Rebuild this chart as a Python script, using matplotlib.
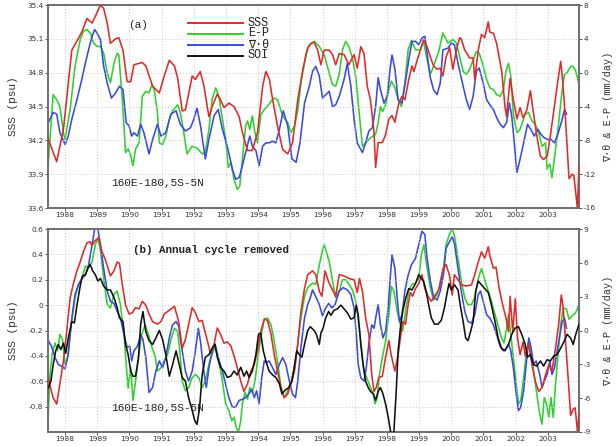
import numpy as np
import matplotlib
matplotlib.use("Agg")
import matplotlib.pyplot as plt

# ---------------- (a) raw monthly series ----------------
ta_sss = [1987.48, 1987.74, 1987.95, 1988.21, 1988.37, 1988.52, 1988.68, 1988.84, 1988.94, 1989.10,
          1989.20, 1989.31, 1989.41, 1989.57, 1989.67, 1989.80, 1989.93, 1990.04, 1990.14, 1990.40,
          1990.51, 1990.72, 1990.93, 1991.08, 1991.24, 1991.40, 1991.50, 1991.64, 1991.74, 1991.95,
          1992.05, 1992.20, 1992.31, 1992.47, 1992.57, 1992.73, 1992.83, 1992.94, 1993.09, 1993.25,
          1993.41, 1993.51, 1993.67, 1993.82, 1993.98, 1994.14, 1994.24, 1994.35, 1994.45, 1994.60,
          1994.76, 1994.92, 1995.07, 1995.23, 1995.39, 1995.54, 1995.65, 1995.74, 1995.85, 1995.95,
          1996.05, 1996.21, 1996.31, 1996.41, 1996.52, 1996.67, 1996.82, 1996.98, 1997.08, 1997.19,
          1997.29, 1997.39, 1997.49, 1997.60, 1997.65, 1997.73, 1997.86, 1997.96, 1998.06, 1998.16,
          1998.25, 1998.37, 1998.47, 1998.56, 1998.68, 1998.78, 1998.84, 1998.94, 1999.04, 1999.14,
          1999.25, 1999.35, 1999.45, 1999.56, 1999.66, 1999.74, 1999.84, 1999.95, 2000.05, 2000.16,
          2000.26, 2000.31, 2000.42, 2000.57, 2000.68, 2000.73, 2000.84, 2000.94, 2001.04, 2001.15,
          2001.20, 2001.31, 2001.41, 2001.52, 2001.57, 2001.67, 2001.72, 2001.83, 2001.93, 2002.04,
          2002.14, 2002.23, 2002.35, 2002.46, 2002.56, 2002.66, 2002.77, 2002.87, 2002.98, 2003.08,
          2003.19, 2003.29, 2003.40, 2003.45, 2003.55, 2003.66, 2003.76, 2003.81, 2003.92, 2003.97]
a_sss = [34.21, 34.01, 34.30, 35.00, 35.08, 35.16, 35.28, 35.24, 35.30, 35.40,
         35.37, 35.24, 35.06, 35.10, 35.11, 35.00, 34.72, 34.72, 34.87, 34.89,
         34.86, 34.68, 34.62, 34.77, 34.91, 34.86, 34.75, 34.46, 34.47, 34.77,
         34.74, 34.81, 34.69, 34.41, 34.50, 34.61, 34.56, 34.49, 34.53, 34.50,
         34.41, 34.27, 34.11, 34.11, 34.27, 34.68, 34.81, 34.74, 34.56, 34.33,
         34.12, 34.08, 34.18, 34.56, 34.83, 35.02, 35.06, 35.07, 35.00, 34.87,
         35.00, 35.00, 34.96, 34.87, 34.97, 34.96, 34.87, 34.96, 34.84, 35.03,
         34.97, 34.68, 34.56, 34.27, 33.96, 34.18, 34.18, 34.25, 34.39, 34.42,
         34.36, 34.53, 34.59, 34.56, 34.74, 34.86, 34.81, 34.91, 35.00, 35.09,
         35.03, 34.94, 34.86, 34.83, 34.84, 34.77, 34.94, 35.02, 34.83, 35.00,
         35.11, 35.10, 35.00, 34.93, 34.93, 34.74, 35.00, 35.14, 35.11, 35.25,
         35.16, 35.15, 35.06, 34.89, 34.81, 34.50, 34.41, 34.75, 34.56, 34.39,
         34.49, 34.40, 34.47, 34.64, 34.43, 34.24, 34.06, 34.03, 34.06, 34.24,
         34.47, 34.68, 34.90, 34.77, 34.39, 33.86, 33.90, 33.89, 33.60, 33.98]

ta_ep = [1987.48, 1987.63, 1987.74, 1987.84, 1987.95, 1988.00, 1988.16, 1988.31, 1988.47, 1988.57,
         1988.68, 1988.78, 1988.89, 1988.99, 1989.10, 1989.20, 1989.31, 1989.41, 1989.52, 1989.62,
         1989.67, 1989.78, 1989.88, 1989.96, 1990.04, 1990.11, 1990.19, 1990.30, 1990.40, 1990.51,
         1990.61, 1990.70, 1990.77, 1990.87, 1990.93, 1991.03, 1991.13, 1991.24, 1991.34, 1991.50,
         1991.58, 1991.69, 1991.79, 1991.95, 1992.10, 1992.26, 1992.36, 1992.47, 1992.57, 1992.68,
         1992.78, 1992.89, 1992.99, 1993.07, 1993.15, 1993.25, 1993.35, 1993.43, 1993.51, 1993.61,
         1993.67, 1993.74, 1993.82, 1993.90, 1993.98, 1994.08, 1994.19, 1994.29, 1994.40, 1994.50,
         1994.60, 1994.76, 1994.92, 1995.02, 1995.13, 1995.23, 1995.33, 1995.49, 1995.59, 1995.74,
         1995.90, 1996.05, 1996.15, 1996.31, 1996.41, 1996.52, 1996.62, 1996.72, 1996.82, 1996.93,
         1997.03, 1997.13, 1997.24, 1997.34, 1997.49, 1997.65, 1997.73, 1997.80, 1997.87, 1997.96,
         1998.06, 1998.14, 1998.25, 1998.35, 1998.45, 1998.56, 1998.66, 1998.76, 1998.89, 1999.04,
         1999.14, 1999.25, 1999.35, 1999.45, 1999.61, 1999.74, 1999.90, 2000.05, 2000.16, 2000.26,
         2000.37, 2000.47, 2000.57, 2000.68, 2000.78, 2000.87, 2000.97, 2001.10, 2001.20, 2001.31,
         2001.41, 2001.52, 2001.62, 2001.70, 2001.78, 2001.85, 2001.93, 2002.04, 2002.14, 2002.30,
         2002.40, 2002.51, 2002.61, 2002.72, 2002.82, 2002.93, 2002.98, 2003.06, 2003.13, 2003.24,
         2003.34, 2003.43, 2003.52, 2003.60, 2003.71, 2003.79, 2003.87, 2003.97]
a_ep = [-10.6, -2.6, -3.2, -4.0, -7.1, -7.9, -4.3, 0.75, 3.9, 4.9,
        5.1, 4.7, 3.5, 3.1, 3.1, 2.3, 0.0, -1.2, 1.1, 2.3,
        2.1, -3.2, -9.45, -9.0, -9.8, -11.0, -9.0, -8.3, -2.8, -2.2,
        -2.4, -1.4, -2.0, -4.7, -8.3, -8.5, -7.5, -5.5, -4.5, -3.8,
        -4.7, -7.1, -9.6, -8.7, -8.9, -9.6, -9.4, -6.7, -3.2, -1.8,
        -2.8, -5.5, -7.9, -11.2, -10.6, -12.6, -13.8, -13.4, -10.2, -6.3,
        -5.7, -6.7, -5.1, -7.1, -8.3, -5.0, -4.35, -3.96, -3.4, -3.0,
        -3.2, -5.1, -5.9, -7.1, -6.3, -4.5, -1.2, 2.3, 3.3, 3.7,
        3.1, 2.1, 0.75, -1.4, -1.6, -0.2, 2.7, 3.7, 3.1, 1.7,
        -0.4, -4.35, -8.7, -8.3, -7.7, -7.3, -5.9, -4.0, -4.6, -3.8,
        -2.0, -1.0, -1.8, -3.2, -4.0, -1.2, 2.7, 3.8, 2.7, 2.7,
        3.7, 1.5, -0.2, 0.75, 2.5, 4.7, 3.5, 3.9, 3.5, 1.9,
        0.16, -0.2, 0.4, 1.5, 2.5, 2.3, 1.1, -0.8, -1.8, -2.0,
        -2.6, -2.8, -2.0, 0.16, 1.1, -0.4, -4.9, -7.1, -6.7, -4.9,
        -4.7, -5.7, -6.1, -7.1, -8.7, -8.3, -11.4, -10.8, -12.4, -9.1,
        -5.9, -2.6, -0.2, 0.0, 0.75, 0.75, 0.16, -1.4]

ta_div = [1987.48, 1987.63, 1987.74, 1987.84, 1988.00, 1988.10, 1988.21, 1988.37, 1988.52, 1988.63,
          1988.73, 1988.84, 1988.92, 1988.99, 1989.10, 1989.20, 1989.31, 1989.44, 1989.57, 1989.69,
          1989.80, 1989.90, 1989.99, 1990.07, 1990.14, 1990.25, 1990.35, 1990.45, 1990.61, 1990.72,
          1990.87, 1990.98, 1991.13, 1991.29, 1991.45, 1991.58, 1991.74, 1991.90, 1992.00, 1992.10,
          1992.21, 1992.36, 1992.47, 1992.63, 1992.76, 1992.89, 1993.04, 1993.20, 1993.30, 1993.41,
          1993.51, 1993.61, 1993.74, 1993.82, 1993.93, 1994.03, 1994.14, 1994.24, 1994.34, 1994.45,
          1994.55, 1994.66, 1994.78, 1994.92, 1995.05, 1995.18, 1995.30, 1995.44, 1995.59, 1995.69,
          1995.79, 1995.90, 1996.00, 1996.10, 1996.21, 1996.31, 1996.41, 1996.52, 1996.67, 1996.77,
          1996.88, 1996.98, 1997.08, 1997.24, 1997.34, 1997.44, 1997.55, 1997.65, 1997.73, 1997.80,
          1997.91, 1998.01, 1998.11, 1998.16, 1998.25, 1998.35, 1998.47, 1998.58, 1998.68, 1998.78,
          1998.89, 1998.99, 1999.09, 1999.18, 1999.25, 1999.35, 1999.45, 1999.56, 1999.66, 1999.74,
          1999.90, 2000.00, 2000.10, 2000.21, 2000.37, 2000.47, 2000.57, 2000.68, 2000.78, 2000.87,
          2000.99, 2001.10, 2001.20, 2001.31, 2001.41, 2001.52, 2001.62, 2001.72, 2001.81, 2001.88,
          2001.95, 2002.04, 2002.14, 2002.25, 2002.37, 2002.47, 2002.58, 2002.69, 2002.79, 2002.89,
          2003.00, 2003.10, 2003.21, 2003.31, 2003.42, 2003.52, 2003.58]
a_div = [-5.9, -4.7, -4.9, -7.1, -8.5, -7.5, -5.5, -3.2, -0.8, 1.1,
         2.7, 4.3, 5.1, 4.7, 3.9, 0.75, -1.2, -3.0, -2.4, -1.6,
         -2.0, -5.9, -6.3, -7.5, -7.1, -7.5, -6.1, -7.1, -9.6, -7.9,
         -6.1, -7.5, -7.1, -4.9, -4.5, -6.1, -6.9, -6.5, -5.5, -4.2,
         -6.3, -10.2, -7.9, -5.1, -4.35, -6.7, -8.7, -11.4, -12.6, -12.4,
         -11.0, -9.45, -7.5, -8.7, -9.2, -11.0, -8.7, -8.3, -8.3, -8.1,
         -8.3, -6.7, -4.5, -6.3, -10.2, -10.6, -8.3, -3.6, -1.6, 0.16,
         0.75, -0.4, -3.0, -2.6, -2.2, -4.0, -3.8, -2.8, -0.8, 1.1,
         -1.6, -5.5, -8.3, -9.45, -8.3, -6.9, -6.5, -4.0, -0.6, -2.0,
         -3.6, -2.8, 0.75, 2.1, 0.4, -3.2, -3.6, -1.0, 1.5, 3.7,
         3.7, 3.3, 4.1, 4.3, 2.3, -0.6, -2.0, -2.6, -1.2, 2.7,
         2.9, 3.5, 3.3, 1.1, -1.6, -3.2, -4.35, -2.8, 0.16, 0.55,
         -1.2, -3.2, -3.8, -4.35, -5.3, -6.1, -6.5, -5.9, -3.6, -5.1,
         -7.9, -11.8, -10.2, -8.3, -6.1, -6.7, -7.5, -6.7, -7.3, -7.7,
         -7.9, -7.9, -8.3, -7.3, -5.9, -4.35, -4.9]

# ---------------- (b) annual cycle removed ----------------
tb_sss = [1987.48, 1987.63, 1987.74, 1987.84, 1987.95, 1988.05, 1988.16, 1988.26, 1988.37, 1988.47,
          1988.57, 1988.68, 1988.78, 1988.84, 1988.94, 1989.04, 1989.15, 1989.25, 1989.41, 1989.52,
          1989.62, 1989.69, 1989.78, 1989.88, 1989.99, 1990.09, 1990.19, 1990.30, 1990.40, 1990.51,
          1990.61, 1990.72, 1990.87, 1990.98, 1991.08, 1991.24, 1991.40, 1991.53, 1991.64, 1991.74,
          1991.84, 1991.95, 1992.05, 1992.16, 1992.26, 1992.42, 1992.52, 1992.63, 1992.73, 1992.83,
          1992.94, 1993.04, 1993.15, 1993.25, 1993.35, 1993.46, 1993.56, 1993.67, 1993.77, 1993.88,
          1993.98, 1994.08, 1994.19, 1994.29, 1994.40, 1994.50, 1994.60, 1994.71, 1994.81, 1994.92,
          1995.02, 1995.13, 1995.23, 1995.33, 1995.44, 1995.54, 1995.59, 1995.69, 1995.79, 1995.90,
          1995.98, 1996.08, 1996.18, 1996.29, 1996.41, 1996.52, 1996.67, 1996.82, 1996.98, 1997.08,
          1997.15, 1997.24, 1997.34, 1997.44, 1997.53, 1997.60, 1997.67, 1997.75, 1997.86, 1997.96,
          1998.06, 1998.14, 1998.25, 1998.35, 1998.42, 1998.49, 1998.58, 1998.66, 1998.73, 1998.80,
          1998.89, 1998.99, 1999.09, 1999.18, 1999.28, 1999.38, 1999.48, 1999.61, 1999.74, 1999.84,
          1999.95, 2000.03, 2000.10, 2000.21, 2000.31, 2000.47, 2000.63, 2000.73, 2000.84, 2000.94,
          2001.04, 2001.15, 2001.20, 2001.31, 2001.39, 2001.49, 2001.60, 2001.70, 2001.78, 2001.83,
          2001.91, 2001.99, 2002.06, 2002.14, 2002.23, 2002.30, 2002.40, 2002.51, 2002.61, 2002.72,
          2002.82, 2002.93, 2003.03, 2003.13, 2003.24, 2003.34, 2003.42, 2003.48, 2003.55, 2003.64,
          2003.71, 2003.79, 2003.85, 2003.92, 2003.97]
b_sss = [-0.58, -0.73, -0.78, -0.62, -0.44, -0.21, 0.06, 0.17, 0.27, 0.34,
         0.42, 0.49, 0.50, 0.47, 0.51, 0.53, 0.42, 0.36, 0.23, 0.27,
         0.34, 0.33, 0.16, 0.00, -0.07, -0.06, -0.02, -0.03, 0.03, 0.00,
         -0.07, -0.13, -0.15, -0.13, -0.07, -0.04, -0.01, -0.13, -0.34, -0.27,
         -0.15, -0.02, -0.06, -0.13, -0.12, -0.28, -0.38, -0.31, -0.18, -0.23,
         -0.30, -0.29, -0.32, -0.40, -0.49, -0.60, -0.68, -0.62, -0.52, -0.47,
         -0.36, -0.21, -0.11, -0.12, -0.23, -0.39, -0.52, -0.65, -0.73, -0.70,
         -0.62, -0.52, -0.31, -0.05, 0.13, 0.24, 0.25, 0.27, 0.24, 0.11,
         0.07, 0.27, 0.19, 0.13, 0.07, 0.24, 0.23, 0.21, 0.20, 0.10,
         0.21, 0.11, -0.10, -0.23, -0.55, -0.68, -0.65, -0.57, -0.56, -0.41,
         -0.28, -0.40, -0.52, -0.39, -0.26, -0.13, -0.15, 0.00, 0.10, 0.07,
         0.13, 0.17, 0.24, 0.13, 0.07, 0.03, 0.07, 0.12, 0.28, 0.32,
         0.23, 0.08, 0.24, 0.20, 0.16, 0.15, 0.16, 0.24, 0.34, 0.42,
         0.37, 0.46, 0.39, 0.29, 0.30, 0.13, 0.00, -0.10, -0.21, 0.07,
         -0.21, 0.05, -0.26, -0.39, -0.29, -0.40, -0.31, -0.47, -0.60, -0.68,
         -0.65, -0.55, -0.47, -0.52, -0.34, -0.15, 0.08, -0.02, -0.28, -0.60,
         -0.87, -0.82, -0.81, -0.99, -0.86]

tb_ep = [1987.46, 1987.53, 1987.60, 1987.69, 1987.77, 1987.84, 1987.92, 1988.00, 1988.08, 1988.19,
         1988.31, 1988.42, 1988.52, 1988.63, 1988.73, 1988.84, 1988.94, 1989.02, 1989.10, 1989.20,
         1989.31, 1989.41, 1989.52, 1989.62, 1989.72, 1989.83, 1989.90, 1989.96, 1990.04, 1990.11,
         1990.19, 1990.28, 1990.38, 1990.49, 1990.59, 1990.70, 1990.80, 1990.87, 1990.98, 1991.08,
         1991.19, 1991.29, 1991.40, 1991.50, 1991.56, 1991.64, 1991.74, 1991.84, 1991.95, 1992.05,
         1992.16, 1992.26, 1992.36, 1992.47, 1992.57, 1992.66, 1992.76, 1992.89, 1992.99, 1993.09,
         1993.18, 1993.25, 1993.32, 1993.39, 1993.46, 1993.51, 1993.59, 1993.67, 1993.74, 1993.82,
         1993.90, 1993.98, 1994.08, 1994.19, 1994.29, 1994.40, 1994.50, 1994.60, 1994.71, 1994.81,
         1994.92, 1995.02, 1995.13, 1995.23, 1995.33, 1995.44, 1995.54, 1995.69, 1995.79, 1995.90,
         1996.00, 1996.05, 1996.12, 1996.21, 1996.31, 1996.41, 1996.52, 1996.62, 1996.72, 1996.82,
         1996.93, 1997.03, 1997.13, 1997.22, 1997.29, 1997.39, 1997.49, 1997.58, 1997.63, 1997.70,
         1997.77, 1997.86, 1997.96, 1998.06, 1998.14, 1998.22, 1998.32, 1998.42, 1998.49, 1998.58,
         1998.68, 1998.78, 1998.89, 1998.99, 1999.07, 1999.15, 1999.25, 1999.35, 1999.45, 1999.56,
         1999.66, 1999.76, 1999.84, 1999.95, 2000.03, 2000.10, 2000.21, 2000.31, 2000.42, 2000.52,
         2000.63, 2000.73, 2000.84, 2000.94, 2001.04, 2001.15, 2001.25, 2001.36, 2001.46, 2001.56,
         2001.64, 2001.72, 2001.78, 2001.85, 2001.93, 2002.02, 2002.09, 2002.16, 2002.25, 2002.33,
         2002.40, 2002.48, 2002.56, 2002.66, 2002.75, 2002.82, 2002.89, 2002.96, 2003.03, 2003.10,
         2003.17, 2003.24, 2003.31, 2003.40, 2003.48, 2003.58, 2003.66, 2003.76, 2003.87, 2003.97]
b_ep = [-8.9, -3.9, -2.1, -1.1, -1.8, -0.35, -0.8, -3.0, -2.4, 0.5,
        2.9, 4.1, 4.6, 5.7, 5.6, 6.1, 7.6, 8.2, 7.1, 4.6,
        2.3, 2.0, 3.2, 3.5, 2.3, -0.35, -3.0, -5.1, -3.3, -6.2,
        -4.5, -2.4, -0.35, 0.5, -0.35, -1.5, -2.3, -3.6, -3.3, -2.7,
        -2.1, -0.8, 0.2, -0.1, -1.6, -4.5, -5.35, -5.05, -4.2, -3.9,
        -4.2, -5.05, -4.5, -3.0, -2.1, -1.5, -2.4, -4.5, -6.5, -7.1,
        -8.0, -7.7, -8.6, -9.0, -8.0, -6.5, -5.5, -6.1, -5.05, -5.5,
        -4.5, -2.7, -0.65, 1.0, 1.1, 0.5, -0.95, -2.7, -5.05, -5.95,
        -5.35, -4.5, -3.3, -1.2, 1.1, 3.0, 3.8, 4.2, 4.1, 5.8,
        7.1, 7.6, 7.0, 6.1, 4.4, 2.9, 3.5, 4.5, 4.5, 4.1,
        3.6, 2.6, 0.5, -1.8, -3.6, -4.3, -5.05, -5.65, -6.5, -5.95,
        -3.9, -2.4, -0.95, 1.4, 3.9, 3.5, 1.7, 0.5, -0.06, 1.7,
        3.5, 4.1, 4.2, 4.6, 6.7, 7.6, 5.5, 3.8, 2.7, 3.2,
        4.1, 5.6, 7.6, 8.6, 9.0, 8.4, 6.4, 4.4, 2.9, 2.3,
        2.3, 2.9, 4.6, 5.5, 4.5, 3.5, 2.6, 1.4, 0.4, -0.65,
        -1.1, 0.2, 1.4, -0.4, -2.4, -4.8, -6.5, -6.2, -4.2, -2.1,
        -0.95, -2.1, -3.6, -5.65, -7.4, -8.3, -5.95, -6.5, -7.7, -5.95,
        -7.7, -4.8, -2.4, 0.5, 2.0, 1.9, 1.0, 1.3, 1.6, 2.3]

tb_div = [1987.48, 1987.58, 1987.69, 1987.79, 1987.90, 1988.00, 1988.10, 1988.21, 1988.31, 1988.42,
          1988.52, 1988.63, 1988.73, 1988.84, 1988.92, 1989.02, 1989.10, 1989.20, 1989.31, 1989.41,
          1989.52, 1989.62, 1989.72, 1989.83, 1989.93, 1990.01, 1990.07, 1990.14, 1990.25, 1990.35,
          1990.42, 1990.51, 1990.61, 1990.72, 1990.82, 1990.93, 1991.03, 1991.13, 1991.24, 1991.34,
          1991.45, 1991.53, 1991.64, 1991.74, 1991.84, 1991.95, 1992.05, 1992.14, 1992.21, 1992.31,
          1992.39, 1992.47, 1992.57, 1992.66, 1992.76, 1992.89, 1992.99, 1993.09, 1993.20, 1993.30,
          1993.41, 1993.51, 1993.61, 1993.72, 1993.80, 1993.88, 1993.95, 1994.03, 1994.11, 1994.19,
          1994.26, 1994.34, 1994.45, 1994.55, 1994.66, 1994.76, 1994.86, 1994.97, 1995.07, 1995.16,
          1995.23, 1995.33, 1995.44, 1995.54, 1995.62, 1995.69, 1995.79, 1995.90, 1996.00, 1996.08,
          1996.19, 1996.29, 1996.39, 1996.52, 1996.64, 1996.77, 1996.88, 1996.98, 1997.05, 1997.11,
          1997.19, 1997.29, 1997.36, 1997.44, 1997.53, 1997.60, 1997.67, 1997.73, 1997.80, 1997.88,
          1997.96, 1998.04, 1998.11, 1998.16, 1998.25, 1998.32, 1998.39, 1998.47, 1998.56, 1998.66,
          1998.76, 1998.89, 1998.99, 1999.09, 1999.18, 1999.25, 1999.35, 1999.45, 1999.56, 1999.66,
          1999.76, 1999.84, 1999.95, 2000.03, 2000.10, 2000.21, 2000.31, 2000.42, 2000.52, 2000.63,
          2000.73, 2000.84, 2000.91, 2000.99, 2001.10, 2001.20, 2001.31, 2001.41, 2001.52, 2001.62,
          2001.70, 2001.78, 2001.85, 2001.93, 2002.02, 2002.09, 2002.16, 2002.25, 2002.33, 2002.41,
          2002.48, 2002.56, 2002.64, 2002.75, 2002.82, 2002.89, 2002.98, 2003.06, 2003.13, 2003.21,
          2003.29, 2003.38, 2003.45, 2003.52, 2003.58]
b_div = [-0.9, -1.4, -2.4, -3.0, -3.2, -3.4, -2.1, 1.1, 3.2, 4.1,
         4.6, 4.9, 5.8, 7.6, 9.0, 9.0, 7.6, 5.5, 3.5, 2.6,
         2.4, 1.7, 1.1, -0.35, -1.5, -1.4, -2.7, -1.8, -1.4, -0.35,
         -0.8, -2.4, -5.5, -5.05, -3.6, -2.7, -3.3, -2.4, -0.65, 0.5,
         0.8, 0.4, -1.8, -3.6, -4.5, -3.6, -1.8, 0.2, -1.0, -3.6,
         -5.05, -3.3, -1.8, -1.2, -2.4, -3.6, -4.8, -5.95, -6.8, -6.8,
         -6.2, -6.1, -5.95, -5.6, -5.2, -5.95, -5.35, -6.5, -4.2, -2.7,
         -2.85, -2.7, -3.3, -3.9, -3.0, -2.4, -3.0, -4.5, -5.65, -5.95,
         -4.5, -1.5, 1.1, 2.3, 2.9, 3.6, 3.0, 2.3, 1.3, 1.9,
         2.4, 2.0, 2.3, 3.5, 3.8, 3.6, 3.2, 2.0, -0.35, -3.0,
         -4.2, -4.5, -3.3, -1.2, 0.5, 0.2, 1.4, 2.3, 0.5, -0.65,
         -0.06, 2.0, 4.9, 6.7, 5.5, 2.9, 0.8, 1.4, 3.5, 4.9,
         5.8, 6.4, 7.6, 8.8, 8.5, 6.4, 4.4, 3.0, 2.7, 3.5,
         5.0, 7.3, 7.9, 8.3, 7.7, 5.5, 3.5, 1.7, 0.8, 0.65,
         1.4, 3.2, 3.5, 2.6, 1.4, 1.1, 0.5, -0.35, -1.4, -1.8,
         -1.6, -1.2, -1.8, -3.3, -5.65, -7.1, -6.8, -5.35, -3.0, -0.65,
         -1.5, -3.0, -2.7, -3.9, -5.05, -4.5, -3.9, -2.7, -3.9, -3.3,
         -1.8, -0.35, 0.8, 1.1, 0.2]

tb_soi = [1987.48, 1987.56, 1987.63, 1987.71, 1987.79, 1987.87, 1987.95, 1988.02, 1988.10, 1988.21,
          1988.29, 1988.37, 1988.47, 1988.54, 1988.63, 1988.71, 1988.78, 1988.86, 1988.94, 1989.02,
          1989.10, 1989.20, 1989.31, 1989.41, 1989.52, 1989.62, 1989.69, 1989.80, 1989.88, 1989.96,
          1990.04, 1990.11, 1990.19, 1990.28, 1990.35, 1990.42, 1990.51, 1990.61, 1990.72, 1990.82,
          1990.93, 1991.03, 1991.13, 1991.24, 1991.34, 1991.45, 1991.53, 1991.64, 1991.74, 1991.84,
          1991.95, 1992.03, 1992.10, 1992.18, 1992.26, 1992.36, 1992.47, 1992.57, 1992.66, 1992.73,
          1992.83, 1992.94, 1993.04, 1993.15, 1993.25, 1993.35, 1993.46, 1993.56, 1993.64, 1993.72,
          1993.82, 1993.93, 1994.01, 1994.08, 1994.16, 1994.24, 1994.34, 1994.45, 1994.55, 1994.66,
          1994.74, 1994.84, 1994.95, 1995.05, 1995.13, 1995.20, 1995.28, 1995.36, 1995.44, 1995.54,
          1995.62, 1995.74, 1995.81, 1995.90, 1995.95, 1996.02, 1996.10, 1996.19, 1996.26, 1996.36,
          1996.46, 1996.57, 1996.67, 1996.77, 1996.88, 1996.98, 1997.05, 1997.11, 1997.19, 1997.26,
          1997.34, 1997.42, 1997.49, 1997.58, 1997.65, 1997.73, 1997.80, 1997.88, 1997.96, 1998.04,
          1998.11, 1998.16, 1998.22, 1998.29, 1998.35, 1998.42, 1998.49, 1998.58, 1998.68, 1998.78,
          1998.89, 1998.99, 1999.07, 1999.14, 1999.22, 1999.30, 1999.38, 1999.48, 1999.59, 1999.69,
          1999.79, 1999.86, 1999.93, 2000.00, 2000.10, 2000.21, 2000.28, 2000.37, 2000.45, 2000.52,
          2000.60, 2000.68, 2000.76, 2000.84, 2000.94, 2001.04, 2001.15, 2001.25, 2001.36, 2001.46,
          2001.56, 2001.67, 2001.78, 2001.88, 2001.99, 2002.09, 2002.19, 2002.30, 2002.37, 2002.46,
          2002.56, 2002.66, 2002.77, 2002.87, 2002.98, 2003.08, 2003.19, 2003.29, 2003.40, 2003.50,
          2003.60, 2003.71, 2003.79, 2003.87, 2003.97]
b_soi = [-0.65, -0.60, -0.47, -0.36, -0.31, -0.35, -0.30, -0.38, -0.26, -0.13,
         -0.14, 0.00, 0.15, 0.23, 0.24, 0.29, 0.32, 0.27, 0.24, 0.19,
         0.21, 0.15, 0.12, 0.12, 0.06, -0.02, -0.10, -0.13, -0.31, -0.39,
         -0.52, -0.56, -0.56, -0.42, -0.15, -0.05, -0.21, -0.28, -0.31, -0.26,
         -0.20, -0.27, -0.39, -0.56, -0.47, -0.36, -0.45, -0.57, -0.60, -0.73,
         -0.83, -0.91, -0.94, -0.81, -0.55, -0.41, -0.39, -0.34, -0.31, -0.41,
         -0.49, -0.52, -0.57, -0.56, -0.52, -0.55, -0.49, -0.56, -0.52, -0.57,
         -0.52, -0.39, -0.23, -0.22, -0.36, -0.44, -0.52, -0.55, -0.57, -0.62,
         -0.70, -0.67, -0.65, -0.60, -0.47, -0.36, -0.39, -0.41, -0.31, -0.20,
         -0.17, -0.20, -0.23, -0.31, -0.22, -0.18, -0.10, -0.05, -0.08, -0.04,
         -0.03, 0.00, -0.03, -0.06, -0.11, -0.10, 0.00, -0.08, -0.31, -0.47,
         -0.60, -0.65, -0.68, -0.70, -0.75, -0.68, -0.65, -0.70, -0.78, -0.88,
         -0.99, -1.06, -0.99, -0.68, -0.36, -0.18, -0.05, 0.05, 0.13, 0.12,
         0.17, 0.24, 0.21, 0.19, 0.11, 0.00, -0.10, -0.15, -0.15, -0.12,
         -0.02, 0.08, 0.17, 0.12, 0.16, 0.12, 0.00, -0.13, -0.26, -0.28,
         -0.21, -0.13, 0.11, 0.19, 0.16, 0.13, 0.10, 0.00, -0.13, -0.26,
         -0.34, -0.36, -0.31, -0.23, -0.18, -0.17, -0.23, -0.31, -0.41, -0.39,
         -0.47, -0.48, -0.44, -0.48, -0.43, -0.44, -0.40, -0.39, -0.34, -0.29,
         -0.23, -0.26, -0.31, -0.23, -0.15]

years = list(range(1988, 2004))
a_left_ticks = [33.6, 33.9, 34.2, 34.5, 34.8, 35.1, 35.4]
a_right_ticks = [-16, -12, -8, -4, 0, 4, 8]
b_left_ticks = [-0.8, -0.6, -0.4, -0.2, 0.0, 0.2, 0.4, 0.6]
b_left_labels = ["-0.8", "-0.6", "-0.4", "-0.2", "0", "0.2", "0.4", "0.6"]
b_right_ticks = [-9, -6, -3, 0, 3, 6, 9]

C_SSS = "#e02a2a"
C_EP = "#2fcf2f"
C_DIV = "#3a4ae0"
C_SOI = "#111111"
LW = 1.15
FRAME = "#707070"
TXT = ["Liberation Mono", "DejaVu Sans Mono", "DejaVu Sans"]
RIGHT_LABEL = "\u2207\u00b7\u03b8 & E-P (mm/day)"

fig = plt.figure(figsize=(6.16, 4.46), dpi=100)
W, H = 616.0, 446.0


def axes_px(x0, y0, x1, y1):
    return fig.add_axes([x0 / W, 1 - y1 / H, (x1 - x0) / W, (y1 - y0) / H])


def fig_xy(px, py):
    return px / W, 1 - py / H


def style(ax, twin):
    for a in (ax, twin):
        for s in a.spines.values():
            s.set_color(FRAME)
            s.set_linewidth(1.3)
        a.tick_params(direction="out", length=2.0, width=0.7, color="#555555",
                      labelsize=5.3, pad=1.2, labelcolor="#333333")
    ax.set_xlim(1987.47, 2003.97)
    ax.set_xticks(years)
    ax.set_xticklabels([str(y) for y in years])
    ax.grid(True, color="#c8c8c8", linestyle=(0, (1, 2)), linewidth=0.7)
    ax.set_axisbelow(True)


def side_labels(ax, twin):
    ax.set_ylabel("SSS (psu)", family=TXT, fontsize=8, color="#333333")
    ax.yaxis.set_label_coords((18 - 48) / 531.0, 0.5)
    twin.set_ylabel(RIGHT_LABEL, family=TXT, fontsize=7.3, color="#333333",
                    rotation=90)
    twin.yaxis.set_label_coords((603 - 48) / 531.0, 0.5)


# ---- panel (a)
ax1 = axes_px(48, 5, 579, 208)
ax1r = ax1.twinx()
style(ax1, ax1r)
ax1.set_ylim(33.6, 35.4)
ax1.set_yticks(a_left_ticks)
ax1.set_yticklabels([f"{v:.1f}" for v in a_left_ticks])
ax1r.set_ylim(-16, 8)
ax1r.set_yticks(a_right_ticks)
ax1r.set_yticklabels([str(v) for v in a_right_ticks])

ax1r.plot(ta_ep, a_ep, color=C_EP, lw=LW)
ax1r.plot(ta_div, a_div, color=C_DIV, lw=LW)
ax1.plot(ta_sss, a_sss, color=C_SSS, lw=LW, zorder=5)
ax1.set_zorder(ax1r.get_zorder() + 1)
ax1.patch.set_visible(False)
side_labels(ax1, ax1r)

fig.text(*fig_xy(138, 25), "(a)", family=TXT, fontsize=8,
         ha="center", va="center", color="#222222")

# legend drawn as labelled line samples
leg_names = ["SSS", "E-P", "\u2207\u00b7\u03b8", "SOI"]
leg_cols = [C_SSS, C_EP, C_DIV, C_SOI]
leg_rows = [22.5, 33.5, 44.5, 55.5]
for name, col, yy in zip(leg_names, leg_cols, leg_rows):
    fig.add_artist(plt.Line2D([188 / W, 243 / W], [1 - yy / H, 1 - yy / H],
                              color=col, lw=1.4))
    fig.text(*fig_xy(248, yy), name, family=TXT, fontsize=8.5,
             ha="left", va="center", color="#222222")
fig.text(*fig_xy(158, 183), "160E-180,5S-5N", family=TXT, fontsize=8,
         ha="center", va="center", color="#222222")

# ---- panel (b)
ax2 = axes_px(48, 229, 579, 432)
ax2r = ax2.twinx()
style(ax2, ax2r)
ax2.set_ylim(-1.0, 0.6)
ax2.set_yticks(b_left_ticks)
ax2.set_yticklabels(b_left_labels)
ax2r.set_ylim(-9, 9)
ax2r.set_yticks(b_right_ticks)
ax2r.set_yticklabels([str(v) for v in b_right_ticks])

ax2r.plot(tb_ep, b_ep, color=C_EP, lw=LW)
ax2r.plot(tb_div, b_div, color=C_DIV, lw=LW)
ax2.plot(tb_sss, b_sss, color=C_SSS, lw=LW, zorder=5)
ax2.plot(tb_soi, b_soi, color=C_SOI, lw=LW, zorder=6)
ax2.set_zorder(ax2r.get_zorder() + 1)
ax2.patch.set_visible(False)
side_labels(ax2, ax2r)

fig.text(*fig_xy(133, 250), "(b) Annual cycle removed", family=TXT,
         fontsize=7.8, fontweight="bold", ha="left", va="center", color="#222222")
fig.text(*fig_xy(158, 408), "160E-180,5S-5N", family=TXT, fontsize=8,
         ha="center", va="center", color="#222222")

fig.savefig("out.png", dpi=100)
